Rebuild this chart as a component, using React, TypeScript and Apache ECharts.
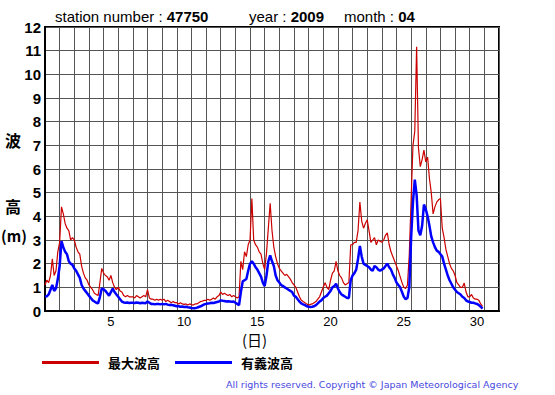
import React, { useEffect, useRef } from "react";
import * as echarts from "echarts";

// Observation meta
const stationNumber = "47750";
const year = "2009";
const month = "04";

// Axis setup
const dayCount = 31; // x-axis spans 31 day-cells
const dayLabels = Array.from({ length: 31 }, (_, i) => String(i + 1));
const yTicks = [0, 1, 2, 3, 4, 5, 6, 7, 8, 9, 10, 11, 12];
const hourStep = 3; // one value every 3 hours, starting day 1 00h

// 最大波高 (max wave height, m), 8 values per day
const maxWave = [
  1.1, 1.3, 1.2, 1.5, 2.2, 1.5, 1.7, 2.5,
  2.9, 4.4, 4.1, 3.7, 3.5, 3.4, 3.0, 3.1,
  3.0, 2.7, 2.5, 2.4, 1.9, 1.6, 1.4, 1.3,
  1.1, 1.0, 0.9, 0.75, 0.7, 0.65, 1.2, 1.8,
  1.6, 1.5, 1.45, 1.3, 1.5, 1.2, 1.0, 0.9,
  1.0, 0.85, 0.8, 0.65, 0.6, 0.65, 0.6, 0.6,
  0.6, 0.55, 0.65, 0.6, 0.55, 0.6, 0.65, 0.6,
  0.9, 0.55, 0.5, 0.5, 0.45, 0.5, 0.45, 0.5,
  0.45, 0.5, 0.4, 0.45, 0.4, 0.35, 0.4, 0.35,
  0.35, 0.3, 0.35, 0.3, 0.28, 0.3, 0.25, 0.3,
  0.27, 0.25, 0.3, 0.3, 0.35, 0.4, 0.42, 0.45,
  0.45, 0.5, 0.45, 0.5, 0.55, 0.5, 0.6, 0.65,
  0.8, 0.7, 0.75, 0.7, 0.65, 0.7, 0.6, 0.65,
  0.6, 0.55, 0.6, 2.1, 1.75, 2.5, 2.3, 2.8,
  3.0, 4.75, 3.0, 2.8, 2.7, 2.5, 2.4, 2.0,
  1.75, 2.45, 3.5, 4.55, 3.4, 2.7, 2.3, 2.0,
  1.8, 1.7, 1.6, 1.5, 1.55, 1.45, 1.35, 1.2,
  1.1, 1.0, 0.8, 0.6, 0.46, 0.4, 0.35, 0.3,
  0.25, 0.28, 0.3, 0.35, 0.4, 0.5, 0.6, 0.8,
  1.0, 1.2, 1.0, 0.9, 1.3, 1.6, 1.7, 2.1,
  1.7, 1.5, 1.4, 1.2, 1.1, 1.15, 1.2, 2.8,
  2.8, 2.9, 2.9, 3.4, 4.6, 3.8, 3.5, 3.7,
  3.85, 3.4, 2.9, 3.0, 3.1, 2.8, 3.0, 2.95,
  2.9, 3.0, 3.2, 3.3, 2.8, 2.5, 2.3, 2.1,
  1.9, 1.7, 1.45, 1.2, 1.0, 0.95, 1.1, 2.4,
  4.7, 7.0, 7.6, 11.17, 6.9, 6.1, 6.4, 6.8,
  6.3, 6.5, 5.6, 5.0, 4.1, 4.4, 4.6, 4.7,
  4.75, 3.5, 3.1, 2.6, 2.3, 2.0, 1.8, 1.7,
  1.5, 1.2, 1.1, 1.0, 1.0, 1.18, 0.8, 0.6,
  0.6, 0.7, 0.55, 0.5, 0.5, 0.45, 0.3, 0.2,
];

// 有義波高 (significant wave height, m), 8 values per day
const sigWave = [
  0.6, 0.62, 0.7, 0.9, 1.1, 0.85, 0.95, 1.35,
  1.9, 2.95, 2.7, 2.5, 2.4, 2.1, 2.0, 1.95,
  1.8, 1.7, 1.55, 1.4, 1.1, 0.95, 0.85, 0.75,
  0.65, 0.55, 0.45, 0.4, 0.35, 0.32, 0.6, 0.95,
  0.92, 0.85, 0.75, 0.65, 0.8, 0.95, 0.8, 0.7,
  0.6, 0.5, 0.4, 0.36, 0.35, 0.36, 0.34, 0.35,
  0.35, 0.34, 0.36, 0.35, 0.33, 0.35, 0.34, 0.33,
  0.4, 0.35, 0.3, 0.3, 0.28, 0.3, 0.3, 0.28,
  0.3, 0.28, 0.3, 0.27, 0.25, 0.26, 0.24, 0.22,
  0.2, 0.2, 0.18, 0.19, 0.17, 0.18, 0.16, 0.15,
  0.13, 0.12, 0.12, 0.14, 0.17, 0.2, 0.24, 0.28,
  0.3, 0.32, 0.33, 0.35, 0.34, 0.36, 0.38, 0.4,
  0.45, 0.43, 0.42, 0.4, 0.41, 0.4, 0.39, 0.4,
  0.35, 0.3, 0.25, 0.8, 1.25, 1.3, 1.35, 1.7,
  2.0, 2.1, 2.0, 1.85, 1.75, 1.6, 1.45, 1.2,
  1.05, 1.5, 2.1, 2.35, 2.1, 1.9, 1.5, 1.3,
  1.2, 1.1, 1.05, 1.0, 0.95, 0.9, 0.85, 0.8,
  0.65, 0.6, 0.5, 0.4, 0.32, 0.28, 0.25, 0.2,
  0.18, 0.17, 0.18, 0.2, 0.25, 0.32, 0.4, 0.45,
  0.55, 0.6, 0.65, 0.75, 0.85, 1.0, 1.05, 1.15,
  0.95, 0.8, 0.7, 0.65, 0.6, 0.55, 0.55, 1.3,
  1.5, 1.6, 1.75, 2.2, 2.75, 2.3, 2.0, 1.95,
  1.9, 1.85, 1.75, 1.7, 1.9, 1.85, 1.75, 1.7,
  1.75, 1.8, 1.9, 2.0, 1.85, 1.75, 1.55, 1.4,
  1.2, 1.1, 1.0, 0.8, 0.6, 0.5, 0.55, 1.0,
  3.1, 4.6, 5.55, 4.9, 3.4, 3.2, 3.6, 4.5,
  4.3, 4.0, 3.6, 3.15, 2.9, 2.7, 2.55, 2.5,
  2.4, 2.3, 2.0, 1.75, 1.5, 1.3, 1.15, 1.0,
  0.9, 0.8, 0.75, 0.7, 0.6, 0.55, 0.45, 0.4,
  0.38, 0.35, 0.35, 0.32, 0.3, 0.25, 0.18, 0.1,
];

const seriesNames = ["最大波高", "有義波高"];
const copyright = "All rights reserved. Copyright © Japan Meteorological Agency";

const LATIN = "'Liberation Sans', Arial, sans-serif";
const CJK = "'Noto Sans CJK JP', sans-serif";

const titleRich = {
  a: { fontFamily: LATIN, fontSize: 15, fontWeight: "normal", color: "#000" },
  b: { fontFamily: LATIN, fontSize: 15, fontWeight: "bold", color: "#000" },
};

export default function App() {
  const ref = useRef<HTMLDivElement>(null);

  useEffect(() => {
    if (!ref.current) return;
    const chart = echarts.init(ref.current, null, { renderer: "svg" });
    const toPoints = (arr: number[]) => arr.map((v, i) => [(i * hourStep) / 24, v]);

    chart.setOption({
      animation: false,
      backgroundColor: "#ffffff",
      title: [
        {
          text: `{a|station number : }{b|${stationNumber}}`,
          left: 55,
          top: 9,
          padding: 0,
          textStyle: { fontWeight: "normal", rich: titleRich },
        },
        {
          text: `{a|year : }{b|${year}}`,
          left: 249,
          top: 9,
          padding: 0,
          textStyle: { fontWeight: "normal", rich: titleRich },
        },
        {
          text: `{a|month : }{b|${month}}`,
          left: 344,
          top: 9,
          padding: 0,
          textStyle: { fontWeight: "normal", rich: titleRich },
        },
      ],
      legend: {
        data: seriesNames,
        left: 42,
        top: 356,
        padding: 0,
        icon: "rect",
        itemWidth: 57,
        itemHeight: 3,
        itemGap: 15,
        textStyle: {
          fontFamily: CJK,
          fontSize: 13,
          fontWeight: "bold",
          color: "#000",
          padding: [0, 0, 0, 4],
        },
      },
      grid: {
        left: 45,
        top: 27,
        right: 56,
        bottom: 84,
        show: true,
        borderColor: "#000",
        borderWidth: 2,
        backgroundColor: "transparent",
      },
      xAxis: [
        {
          type: "value",
          min: 0,
          max: dayCount,
          interval: 1,
          axisLine: { show: true, lineStyle: { color: "#000", width: 2 } },
          axisTick: { show: false },
          axisLabel: { show: false },
          splitLine: { show: true, lineStyle: { color: "#555", width: 1 } },
        },
        {
          type: "category",
          data: dayLabels,
          boundaryGap: true,
          position: "bottom",
          axisLine: { show: false },
          axisTick: { show: false },
          splitLine: { show: false },
          axisLabel: {
            interval: (index: number) => (index + 1) % 5 === 0,
            fontFamily: LATIN,
            fontSize: 13,
            color: "#000",
            margin: 4,
          },
        },
      ],
      yAxis: {
        type: "value",
        min: yTicks[0],
        max: yTicks[yTicks.length - 1],
        interval: 1,
        axisLine: { show: true, lineStyle: { color: "#000", width: 2 } },
        axisTick: { show: false },
        axisLabel: {
          fontFamily: LATIN,
          fontSize: 15,
          fontWeight: "bold",
          color: "#000",
          margin: 4,
        },
        splitLine: { show: true, lineStyle: { color: "#555", width: 1 } },
      },
      graphic: [
        { type: "text", left: 5, top: 132, style: { text: "波", font: `bold 16px ${CJK}`, fill: "#000" } },
        { type: "text", left: 5, top: 198, style: { text: "高", font: `bold 16px ${CJK}`, fill: "#000" } },
        { type: "text", left: 1, top: 228, style: { text: "(m)", font: `bold 15px ${CJK}`, fill: "#000" } },
        { type: "text", left: 242, top: 332, style: { text: "(日)", font: `15px ${CJK}`, fill: "#000" } },
        {
          type: "text",
          left: 226,
          top: 379,
          style: { text: copyright, font: `9.5px 'DejaVu Sans', sans-serif`, fill: "#4848e0" },
        },
      ],
      series: [
        {
          name: seriesNames[0],
          type: "line",
          xAxisIndex: 0,
          data: toPoints(maxWave),
          showSymbol: false,
          symbol: "none",
          color: "#cc0000",
          itemStyle: { color: "#cc0000" },
          lineStyle: { color: "#cc0000", width: 1.2 },
        },
        {
          name: seriesNames[1],
          type: "line",
          xAxisIndex: 0,
          data: toPoints(sigWave),
          showSymbol: false,
          symbol: "none",
          color: "#0000ff",
          itemStyle: { color: "#0000ff" },
          lineStyle: { color: "#0000ff", width: 2.5 },
        },
      ],
    });

    return () => chart.dispose();
  }, []);

  return (
    <div
      ref={ref}
      style={{ position: "fixed", left: 0, top: 0, width: 555, height: 395, background: "#fff" }}
    />
  );
}
